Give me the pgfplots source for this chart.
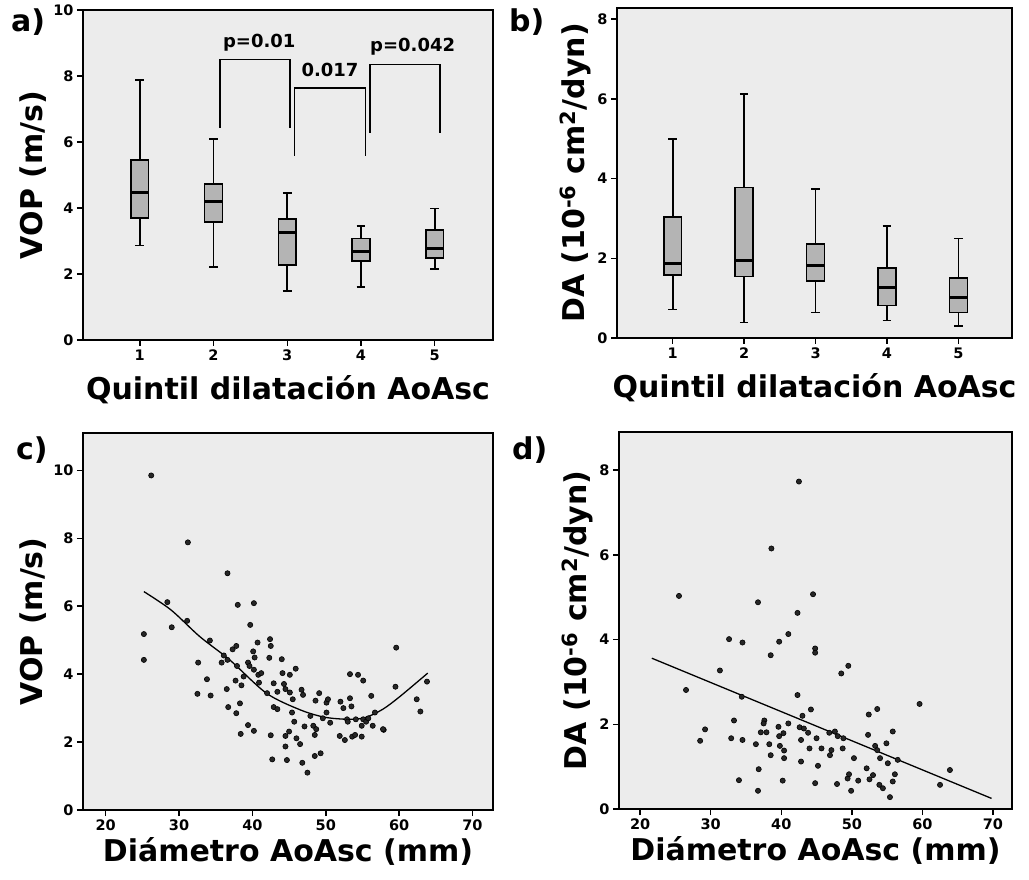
\documentclass[border=0pt]{standalone}
\usepackage{fontspec}
\setmainfont{DejaVu Sans}
\usepackage{pgfplots}
\pgfplotsset{compat=1.18}
\usepgfplotslibrary{statistics}

\definecolor{bg}{RGB}{236,236,236}
\definecolor{boxgray}{RGB}{180,180,180}

\pgfplotsset{
  myaxis/.style={
    scale only axis,
    anchor=south west,
    axis background/.style={fill=bg},
    axis line style={line width=1.5pt},
    tick align=outside,
    tick pos=left,
    major tick length=6pt,
    tick style={black, line width=1.5pt},
    /pgf/number format/assume math mode=true,
    ticklabel style={font=\bfseries\fontsize{14.5}{16}\selectfont},
    label style={font=\bfseries\fontsize{30}{34}\selectfont},
    clip=false,
  },
  mybox/.style={
    boxplot/draw direction=y,
    boxplot/every median/.style={line width=3.2pt},
    boxplot/every box/.style={fill=boxgray, draw=black, line width=1.5pt},
    boxplot/every whisker/.style={black, line width=1.6pt},
    xlabel style={yshift=-8pt},
  },
  myscatter/.style={only marks, mark=*, mark size=2.6pt,
    mark options={draw=black, fill=black!85, line width=0.6pt}},
}

\pgfplotstableread{
x y
26.2 9.85
31.2 7.88
36.6 6.97
25.2 5.18
25.2 4.42
28.4 6.12
29.0 5.38
31.1 5.57
34.2 4.99
32.6 4.34
32.5 3.42
33.8 3.85
34.3 3.37
35.8 4.34
36.1 4.55
36.6 4.42
36.5 3.56
36.7 3.03
37.3 4.73
37.8 4.83
37.9 4.24
38.0 6.04
37.7 3.81
37.8 2.85
38.3 3.14
38.4 2.24
38.5 3.67
38.8 3.93
39.4 4.34
39.6 4.24
39.7 5.45
39.4 2.50
40.2 6.09
40.1 4.67
40.3 4.49
40.2 4.13
40.2 2.33
40.7 4.93
40.8 3.98
41.2 4.03
40.9 3.75
42.4 5.03
42.5 4.83
42.3 4.48
42.0 3.44
42.5 2.20
42.7 1.49
42.9 3.73
42.9 3.03
43.4 2.97
43.4 3.48
44.0 4.44
44.1 4.03
44.3 3.71
44.5 3.56
45.1 3.98
45.1 3.46
45.5 3.26
45.9 4.16
45.4 2.87
45.7 2.60
44.5 2.18
45.0 2.31
44.5 1.87
44.7 1.47
46.0 2.11
46.5 1.94
46.8 1.39
46.7 3.54
46.9 3.39
47.1 2.46
47.5 1.10
47.9 2.77
48.3 2.48
48.5 2.21
48.5 1.59
48.7 2.38
48.6 3.22
49.1 3.44
49.3 1.67
50.1 2.87
49.6 2.70
50.1 3.16
50.3 3.26
50.6 2.57
52.0 3.19
51.9 2.18
52.4 3.00
52.6 2.06
52.9 2.67
53.0 2.60
53.3 4.00
53.3 3.29
53.5 3.05
53.6 2.16
54.0 2.21
54.4 3.98
54.1 2.67
55.1 3.81
54.9 2.48
54.9 2.16
55.1 2.67
55.5 2.60
55.8 2.70
56.2 3.36
56.4 2.48
56.7 2.87
57.9 2.36
57.8 2.38
59.6 4.78
59.5 3.63
62.4 3.26
62.9 2.90
63.8 3.78
}\vopdata

\pgfplotstableread{
x y
42.5 7.73
38.6 6.15
25.5 5.03
44.5 5.07
36.7 4.88
42.3 4.63
32.6 4.01
34.5 3.93
41.0 4.13
39.7 3.95
44.8 3.79
44.8 3.69
38.5 3.63
49.5 3.38
48.5 3.20
31.3 3.27
26.5 2.81
34.4 2.65
42.3 2.69
44.2 2.35
43.0 2.20
53.6 2.36
52.4 2.23
59.6 2.48
33.3 2.09
29.2 1.88
28.5 1.61
32.9 1.67
34.5 1.63
36.4 1.53
37.6 2.09
37.5 2.02
37.1 1.81
37.9 1.81
38.3 1.53
38.5 1.27
36.8 0.94
34.0 0.68
36.7 0.43
39.6 1.94
39.7 1.72
40.3 1.79
39.8 1.49
40.4 1.38
40.4 1.20
40.2 0.67
41.0 2.02
42.6 1.93
43.2 1.90
43.8 1.80
42.8 1.63
44.0 1.43
42.8 1.12
45.0 1.67
45.7 1.43
45.2 1.02
44.8 0.61
46.8 1.80
47.6 1.83
48.0 1.72
48.8 1.67
47.1 1.39
46.9 1.27
48.7 1.43
47.9 0.59
49.4 0.72
49.6 0.82
50.3 1.20
49.9 0.43
50.9 0.67
52.1 0.96
52.3 1.75
52.5 0.70
53.0 0.80
53.3 1.49
53.6 1.39
54.0 1.20
53.9 0.57
54.4 0.49
54.9 1.55
55.1 1.08
55.4 0.28
55.8 1.83
56.1 0.82
55.8 0.65
56.5 1.16
62.5 0.57
63.9 0.92
}\dadata

\begin{document}
\begin{tikzpicture}
\useasboundingbox (0,0) rectangle (1029pt,879pt);

% ---------- a) ----------
\begin{axis}[myaxis, mybox, at={(83pt,539pt)}, width=410pt, height=330pt,
  xmin=0.23, xmax=5.79, ymin=0, ymax=10,
  xtick={1,2,3,4,5}, ytick={0,2,4,6,8,10},
  boxplot/box extend=0.24, boxplot/whisker extend=0.12,
  xlabel={Quintil dilatación AoAsc}, ylabel={VOP (m/s)}]
\addplot+[black, boxplot prepared={draw position=1, lower whisker=2.86, lower quartile=3.69, median=4.47, upper quartile=5.45, upper whisker=7.88}] coordinates {};
\addplot+[black, boxplot prepared={draw position=2, lower whisker=2.22, lower quartile=3.58, median=4.19, upper quartile=4.73, upper whisker=6.09}] coordinates {};
\addplot+[black, boxplot prepared={draw position=3, lower whisker=1.49, lower quartile=2.27, median=3.26, upper quartile=3.67, upper whisker=4.46}] coordinates {};
\addplot+[black, boxplot prepared={draw position=4, lower whisker=1.60, lower quartile=2.39, median=2.68, upper quartile=3.08, upper whisker=3.45}] coordinates {};
\addplot+[black, boxplot prepared={draw position=5, lower whisker=2.15, lower quartile=2.49, median=2.78, upper quartile=3.33, upper whisker=3.98}] coordinates {};
\addplot[black, line width=1.6pt, mark=none] coordinates {(2.09,6.43)(2.09,8.5)(3.04,8.5)(3.04,6.43)};
\addplot[black, line width=1.6pt, mark=none] coordinates {(3.10,5.58)(3.10,7.63)(4.06,7.63)(4.06,5.58)};
\addplot[black, line width=1.6pt, mark=none] coordinates {(4.12,6.28)(4.12,8.35)(5.07,8.35)(5.07,6.28)};
\node[font=\bfseries\fontsize{18}{20}\selectfont, anchor=base] at (axis cs:2.62,8.85) {p=0.01};
\node[font=\bfseries\fontsize{18}{20}\selectfont, anchor=base] at (axis cs:3.58,7.98) {0.017};
\node[font=\bfseries\fontsize{18}{20}\selectfont, anchor=base] at (axis cs:4.70,8.75) {p=0.042};
\end{axis}
\node[font=\bfseries\fontsize{30}{34}\selectfont, anchor=north west, inner sep=0pt] at (11pt,870pt) {a)};

% ---------- b) ----------
\begin{axis}[myaxis, mybox, at={(617pt,541pt)}, width=395pt, height=330pt,
  xmin=0.22, xmax=5.75, ymin=0, ymax=8.28,
  xtick={1,2,3,4,5}, ytick={0,2,4,6,8},
  boxplot/box extend=0.25, boxplot/whisker extend=0.12,
  xlabel={Quintil dilatación AoAsc}, ylabel={DA (10\textsuperscript{-6} cm\textsuperscript{2}/dyn)}]
\addplot+[black, boxplot prepared={draw position=1, lower whisker=0.72, lower quartile=1.58, median=1.87, upper quartile=3.04, upper whisker=5.00}] coordinates {};
\addplot+[black, boxplot prepared={draw position=2, lower whisker=0.39, lower quartile=1.54, median=1.94, upper quartile=3.78, upper whisker=6.12}] coordinates {};
\addplot+[black, boxplot prepared={draw position=3, lower whisker=0.64, lower quartile=1.43, median=1.81, upper quartile=2.36, upper whisker=3.74}] coordinates {};
\addplot+[black, boxplot prepared={draw position=4, lower whisker=0.44, lower quartile=0.82, median=1.27, upper quartile=1.76, upper whisker=2.81}] coordinates {};
\addplot+[black, boxplot prepared={draw position=5, lower whisker=0.30, lower quartile=0.64, median=1.01, upper quartile=1.50, upper whisker=2.50}] coordinates {};
\end{axis}
\node[font=\bfseries\fontsize{30}{34}\selectfont, anchor=north west, inner sep=0pt] at (509pt,870pt) {b)};

% ---------- c) ----------
\begin{axis}[myaxis, at={(83pt,69pt)}, width=410pt, height=377pt,
  xmin=16.9, xmax=72.8, ymin=0, ymax=11.1,
  xtick={20,30,40,50,60,70}, ytick={0,2,4,6,8,10},
  xlabel={Diámetro AoAsc (mm)}, ylabel={VOP (m/s)}]
\addplot[myscatter] table[x=x,y=y] {\vopdata};
\addplot[black, line width=1.3pt, smooth, mark=none] coordinates {
(25.2,6.43)(28.9,5.89)(32.8,5.11)(36.9,4.42)(41.9,3.44)(46.5,2.95)(49.9,2.73)(53.3,2.67)(55.5,2.73)(57.8,2.97)(60.1,3.34)(63.9,4.03)};
\end{axis}
\node[font=\bfseries\fontsize{30}{34}\selectfont, anchor=north west, inner sep=0pt] at (16pt,442pt) {c)};

% ---------- d) ----------
\begin{axis}[myaxis, at={(619pt,70pt)}, width=393pt, height=377pt,
  xmin=17.0, xmax=72.7, ymin=0, ymax=8.9,
  xtick={20,30,40,50,60,70}, ytick={0,2,4,6,8},
  xlabel={Diámetro AoAsc (mm)}, ylabel={DA (10\textsuperscript{-6} cm\textsuperscript{2}/dyn)}]
\addplot[myscatter] table[x=x,y=y] {\dadata};
\addplot[black, line width=1.3pt, mark=none] coordinates {(21.65,3.56)(69.8,0.25)};
\end{axis}
\node[font=\bfseries\fontsize{30}{34}\selectfont, anchor=north west, inner sep=0pt] at (512pt,442pt) {d)};
\end{tikzpicture}
\end{document}
